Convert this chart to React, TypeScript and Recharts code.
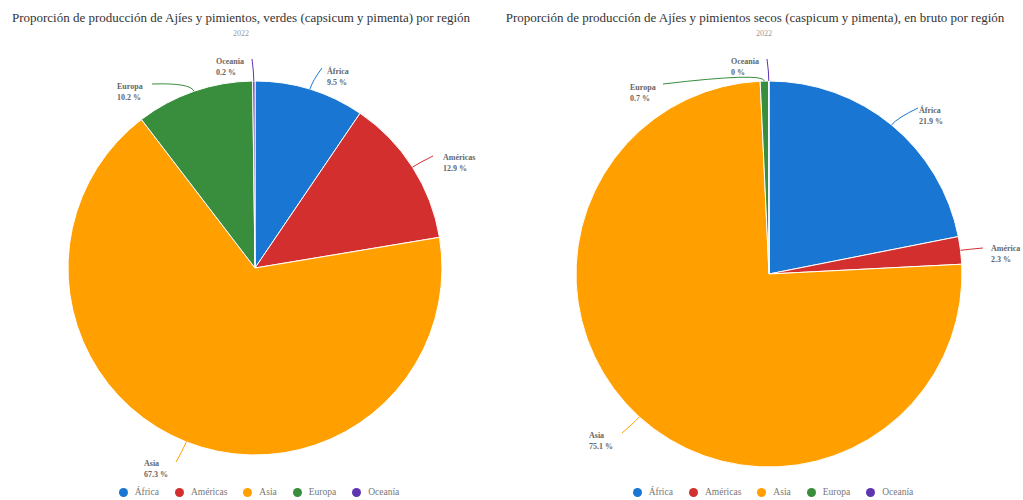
import React from 'react';
import { PieChart, Pie, Cell } from 'recharts';

const regions = ['África', 'Américas', 'Asia', 'Europa', 'Oceanía'];
const greenLabels = ['África', 'Américas', 'Asia', 'Europa', 'Oceania'];
const dryLabels = ['África', 'América', 'Asia', 'Europa', 'Oceania'];
const greenShares = [9.5, 12.9, 67.3, 10.2, 0.2];
const dryShares = [21.9, 2.3, 75.1, 0.7, 0.03];

const COLORS = ['#1976d2', '#d32f2f', '#ffa000', '#388e3c', '#5e35b1'];
const SERIF = '"Liberation Serif", "Times New Roman", serif';
const RAD = Math.PI / 180;

type LabelSpot = { ex: number; ey: number; tx: number; ty: number };

// where each outside label sits (chart-local px)
const greenSpots: LabelSpot[] = [
  { ex: 322, ey: 68, tx: 327, ty: 74 },
  { ex: 433, ey: 156, tx: 443, ty: 160 },
  { ex: 176, ey: 462, tx: 144, ty: 466 },
  { ex: 152, ey: 84, tx: 117, ty: 89 },
  { ex: 252, ey: 59, tx: 216, ty: 64 },
];
const drySpots: LabelSpot[] = [
  { ex: 406, ey: 108, tx: 407, ty: 113 },
  { ex: 471, ey: 248, tx: 479, ty: 251 },
  { ex: 110, ey: 433, tx: 77, ty: 438 },
  { ex: 151, ey: 84, tx: 118, ty: 90 },
  { ex: 255, ey: 59, tx: 219, ty: 64 },
];

const fmt = (v: number) => `${Number(v.toFixed(1))} %`;

const makeLabel = (spots: LabelSpot[], names: string[]) => (props: any) => {
  const { cx, cy, midAngle, outerRadius, index, value } = props;
  const s = spots[index];
  const sx = cx + outerRadius * Math.cos(-midAngle * RAD);
  const sy = cy + outerRadius * Math.sin(-midAngle * RAD);
  const qx = cx + (outerRadius + 9) * Math.cos(-midAngle * RAD);
  const qy = cy + (outerRadius + 9) * Math.sin(-midAngle * RAD);
  return (
    <g key={`lbl-${index}`}>
      <path d={`M${sx},${sy} Q${qx},${qy} ${s.ex},${s.ey}`} stroke={COLORS[index]} strokeWidth={1} fill="none" />
      <text x={s.tx} y={s.ty} textAnchor="start" fontFamily={SERIF} fontSize={8} fontWeight="bold" fill="#666">
        <tspan x={s.tx}>{names[index]}</tspan>
        <tspan x={s.tx} dy={11}>{fmt(value)}</tspan>
      </text>
    </g>
  );
};

const Legend = ({ centerX }: { centerX: number }) => (
  <div
    style={{
      position: 'absolute', top: 487, left: centerX - 200, width: 400,
      display: 'flex', justifyContent: 'center', gap: 16,
      fontFamily: SERIF, fontSize: 9.5, color: '#777',
    }}
  >
    {regions.map((r, i) => (
      <div key={r} style={{ display: 'flex', alignItems: 'center', gap: 7 }}>
        <span style={{ width: 9, height: 9, borderRadius: '50%', background: COLORS[i], display: 'inline-block' }} />
        <span>{r}</span>
      </div>
    ))}
  </div>
);

const Panel = ({ left, title, titleX, yearX, shares, names, spots, cx, cy, r }: any) => {
  const data = regions.map((name, i) => ({ name, value: shares[i] }));
  return (
    <div style={{ position: 'absolute', top: 0, left, width: 540, height: 500 }}>
      <div style={{ position: 'absolute', top: 10, left: titleX - 300, width: 600, textAlign: 'center', fontFamily: SERIF, fontSize: 13, color: '#333', whiteSpace: 'nowrap' }}>
        {title}
      </div>
      <div style={{ position: 'absolute', top: 29, left: yearX - 50, width: 100, textAlign: 'center', fontFamily: SERIF, fontSize: 8, color: '#999' }}>
        2022
      </div>
      <div style={{ position: 'absolute', top: 0, left: 0 }}>
        <PieChart width={540} height={500} margin={{ top: 0, right: 0, bottom: 0, left: 0 }}>
          <Pie
            data={data}
            dataKey="value"
            nameKey="name"
            cx={cx}
            cy={cy}
            outerRadius={r}
            startAngle={90}
            endAngle={-270}
            stroke="#fff"
            strokeWidth={1}
            labelLine={false}
            label={makeLabel(spots, names)}
            isAnimationActive={false}
          >
            {data.map((d, i) => (
              <Cell key={`cell-${i}`} fill={COLORS[i]} />
            ))}
          </Pie>
        </PieChart>
      </div>
      <Legend centerX={cx + 4} />
    </div>
  );
};

export default function App() {
  return (
    <div style={{ position: 'absolute', top: 0, left: 0, width: 1023, height: 500, background: '#fff', overflow: 'hidden' }}>
      <Panel
        left={0}
        title="Proporción de producción de Ajíes y pimientos, verdes (capsicum y pimenta) por región"
        titleX={241}
        yearX={241}
        shares={greenShares}
        names={greenLabels}
        spots={greenSpots}
        cx={255}
        cy={268}
        r={187}
      />
      <Panel
        left={512}
        title="Proporción de producción de Ajíes y pimientos secos (caspicum y pimenta), en bruto por región"
        titleX={243}
        yearX={252}
        shares={dryShares}
        names={dryLabels}
        spots={drySpots}
        cx={257}
        cy={274}
        r={193}
      />
    </div>
  );
}
